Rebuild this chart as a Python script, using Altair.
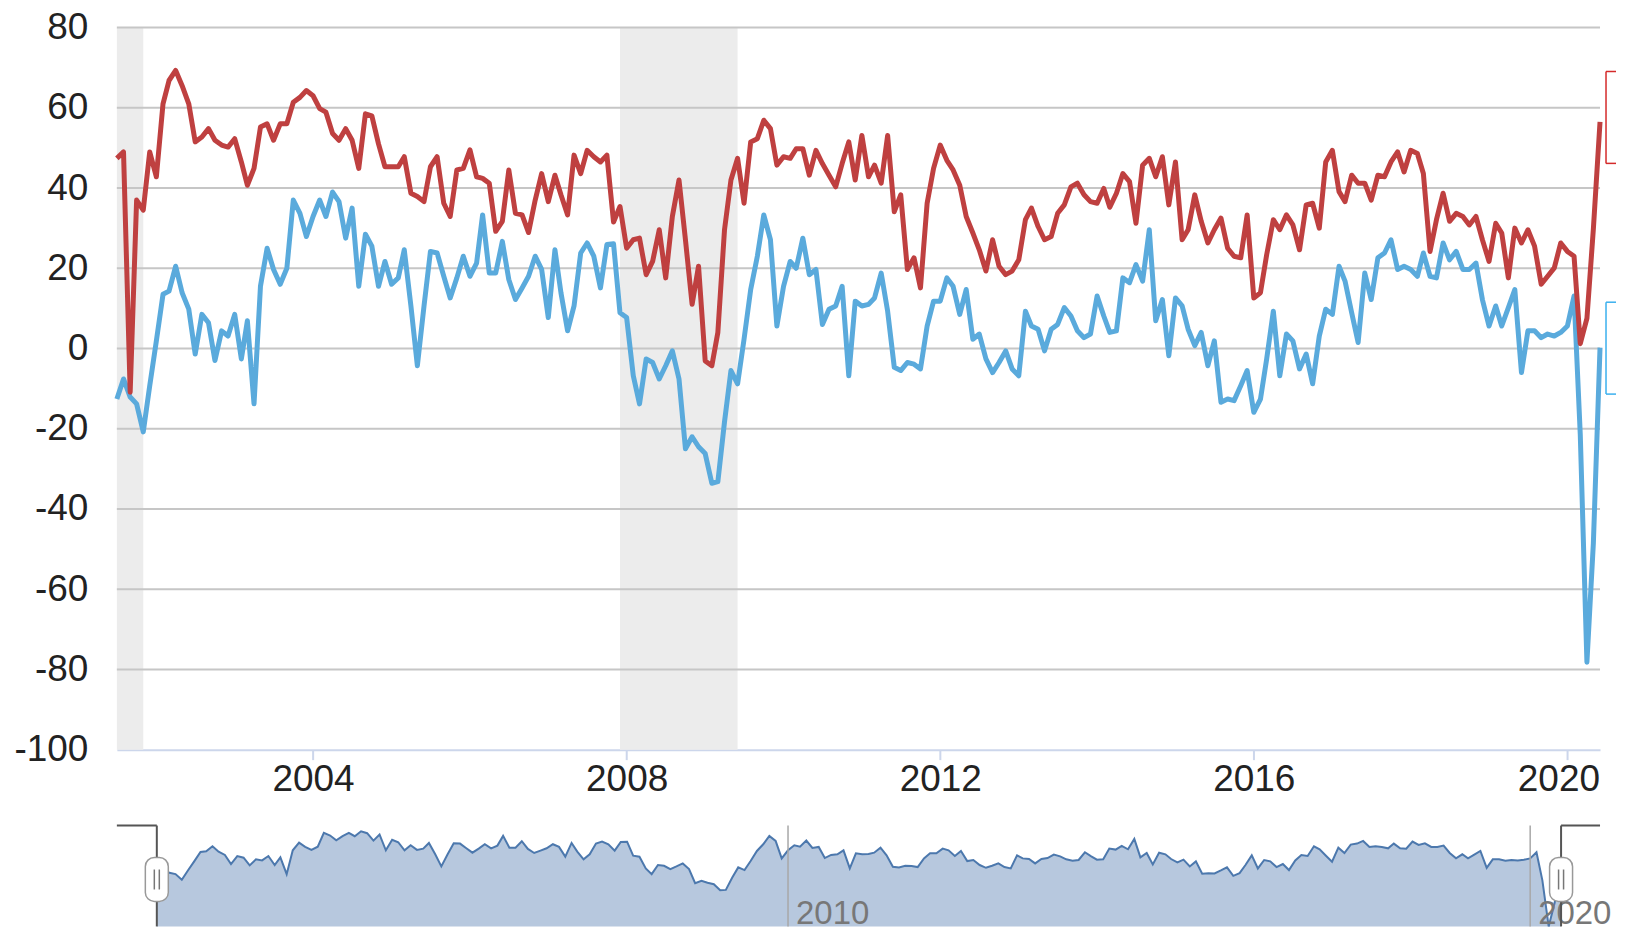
import altair as alt
import pandas as pd

# Empire-style survey: current conditions (blue) and future conditions (red), monthly from Jul 2001
current = [
    -12.6, -7.6, -12.1, -13.8, -20.8, -9.3, 1.9, 13.5, 14.3, 20.5, 13.9, 9.8,
    -1.4, 8.5, 6.4, -3.0, 4.4, 3.1, 8.5, -2.6, 6.9, -13.8, 15.5, 25.0,
    19.7, 16.0, 20.0, 37.0, 33.7, 27.9, 32.9, 37.0, 32.9, 39.0, 36.6, 27.5,
    35.0, 15.5, 28.5, 25.5, 15.5, 21.7, 16.0, 17.6, 24.6, 10.6, -4.3, 10.6,
    24.2, 23.8, 18.0, 12.6, 17.6, 23.0, 18.0, 21.3, 33.3, 18.8, 18.8, 26.7,
    17.2, 12.2, 15.1, 18.0, 23.0, 19.7, 7.7, 24.6, 13.9, 4.4, 10.6, 23.8,
    26.3, 23.0, 15.1, 25.9, 26.1, 8.9, 7.7, -6.8, -13.8, -2.6, -3.5, -7.6,
    -4.3, -0.6, -7.6, -25.0, -22.0, -24.5, -26.2, -33.6, -33.2, -18.3, -5.5, -8.8,
    2.3, 14.7, 23.0, 33.3, 27.1, 5.6, 15.5, 21.7, 20.0, 27.5, 18.4, 19.7,
    6.0, 9.8, 10.6, 15.5, -6.8, 11.8, 10.6, 11.0, 12.6, 18.8, 9.3, -4.7,
    -5.5, -3.5, -3.9, -5.1, 5.6, 11.8, 11.8, 17.6, 15.5, 8.5, 14.7, 2.3,
    3.6, -2.6, -6.0, -3.5, -0.6, -5.1, -6.8, 9.3, 5.6, 4.8, -0.6, 4.8,
    6.0, 10.2, 8.1, 4.4, 2.7, 3.6, 13.1, 8.1, 4.0, 4.4, 17.6, 16.4,
    20.9, 16.8, 29.6, 6.9, 12.2, -1.8, 12.6, 10.6, 4.8, 0.7, 4.0, -4.3,
    1.9, -13.4, -12.6, -13.0, -9.3, -5.5, -15.9, -12.6, -2.6, 9.3, -6.8, 3.6,
    1.9, -5.1, -1.4, -8.8, 3.1, 9.8, 8.5, 20.5, 16.8, 8.9, 1.5, 18.8,
    12.2, 22.6, 23.8, 27.1, 19.7, 20.5, 19.7, 18.0, 23.8, 18.0, 17.6, 26.3,
    22.1, 24.2, 19.7, 19.7, 21.3, 12.2, 5.6, 10.6, 5.6, 10.2, 14.7, -6.0,
    4.4, 4.4, 2.7, 3.6, 3.1, 4.0, 5.6, 13.1, -21.5, -78.2, -48.5, 0.2,
]
future = [
    47.4, 49.0, -10.9, 37.0, 34.5, 49.0, 42.8, 61.0, 66.8, 69.3, 65.5, 61.0,
    51.5, 52.7, 54.8, 51.9, 50.7, 50.2, 52.3, 46.5, 40.7, 44.9, 55.2, 56.0,
    51.9, 56.0, 56.0, 61.4, 62.6, 64.3, 63.0, 59.8, 58.9, 53.6, 51.9, 54.8,
    51.9, 44.9, 58.5, 58.0, 51.0, 45.3, 45.3, 45.3, 47.8, 38.7, 37.9, 36.6,
    45.3, 47.8, 36.2, 32.9, 44.5, 44.9, 49.5, 42.8, 42.4, 41.2, 29.2, 31.7,
    44.5, 33.7, 33.3, 28.9, 37.0, 43.6, 36.6, 43.2, 38.3, 33.3, 48.2, 43.6,
    49.4, 47.8, 46.5, 48.2, 31.5, 35.4, 25.0, 27.1, 27.5, 18.4, 21.7, 29.6,
    17.6, 32.9, 42.0, 27.1, 11.0, 20.5, -3.1, -4.3, 4.0, 29.6, 42.0, 47.4,
    36.2, 51.5, 52.3, 56.9, 54.8, 45.7, 47.8, 47.4, 49.8, 49.8, 43.2, 49.4,
    46.1, 43.2, 40.3, 46.1, 51.5, 42.0, 53.1, 42.8, 45.7, 41.2, 53.1, 34.1,
    38.3, 19.7, 22.6, 15.1, 36.2, 44.9, 50.7, 46.9, 44.5, 40.7, 32.9, 28.8,
    24.6, 19.3, 27.1, 20.5, 18.4, 19.3, 22.1, 32.1, 35.0, 30.4, 27.1, 27.9,
    33.7, 35.8, 40.3, 41.2, 38.3, 36.6, 36.2, 39.9, 35.2, 38.7, 43.6, 41.6,
    31.2, 45.7, 47.4, 42.8, 47.8, 35.8, 46.5, 27.1, 29.6, 38.3, 31.7, 26.3,
    29.6, 32.5, 25.0, 23.0, 22.6, 33.3, 12.6, 13.9, 23.4, 32.1, 29.6, 33.3,
    30.8, 24.6, 35.8, 36.2, 30.0, 46.5, 49.4, 39.1, 36.6, 43.2, 41.2, 41.2,
    37.0, 43.2, 42.8, 46.5, 49.0, 44.0, 49.4, 48.6, 43.6, 24.2, 32.1, 38.7,
    31.7, 33.7, 32.9, 30.8, 32.9, 27.1, 21.7, 31.2, 28.8, 17.6, 30.0, 26.3,
    29.6, 25.5, 16.0, 18.0, 20.1, 26.3, 24.2, 23.0, 1.2, 7.5, 29.8, 56.5,
]
first_month = "2001-07-01"
months = pd.date_range(first_month, periods=len(current), freq="MS").strftime("%Y-%m-%d").tolist()

recession_start = ["2001-07-01", "2007-12-01"]
recession_end = ["2001-11-01", "2009-06-01"]
grid_values = [-80, -60, -40, -20, 0, 20, 40, 60, 80]
y_ticks = [-100, -80, -60, -40, -20, 0, 20, 40, 60, 80]
x_tick_years = [2004, 2008, 2012, 2016, 2020]
nav_dates = ["2010-01-01", "2020-01-01"]
nav_labels = ["2010", "2020"]

W, H = 1485, 723
NAV_H = 101
FONT = "Liberation Sans"

df = pd.DataFrame({"date": months, "current": current, "future": future})
rec = pd.DataFrame({"start": recession_start, "end": recession_end})
grid = pd.DataFrame({"value": grid_values})
navlab = pd.DataFrame({"d": nav_dates, "label": nav_labels})
edges = pd.DataFrame({"d": [months[0], months[-1]], "side": ["left", "right"]})
one = pd.DataFrame({"k": [0]})


def dt(s):
    return alt.DateTime(year=int(s[:4]), month=int(s[5:7]), date=int(s[8:10]), utc=True)


x_dom = [dt(months[0]), dt(months[-1])]
xscale = alt.Scale(type="utc", domain=x_dom, nice=False)
yscale = alt.Scale(domain=[-100, 80], nice=False)

xaxis = alt.Axis(
    values=[alt.DateTime(year=y, month=1, date=1, utc=True) for y in x_tick_years],
    format="%Y", title=None, grid=False,
    labelFont=FONT, labelFontSize=37, labelColor="#222222",
    tickSize=10, tickColor="#ccd6eb", tickWidth=2,
    domainColor="#ccd6eb", domainWidth=2, labelPadding=2,
    labelOffset={"condition": {"test": "utcyear(datum.value) == 2020", "value": -9}, "value": 0},
)
yaxis = alt.Axis(
    values=y_ticks, title=None, grid=False, ticks=False, domain=False,
    labelFont=FONT, labelFontSize=37, labelColor="#222222", labelPadding=29,
    labelExpr="replace(datum.label, '\u2212', '-')",
)

shade = alt.Chart(rec).mark_rect(color="#ececec").encode(
    x=alt.X("start:T", scale=xscale, axis=xaxis),
    x2="end:T",
    y=alt.value(0), y2=alt.value(H),
)
gridrules = alt.Chart(grid).mark_rule(color="#c6c6c6", strokeWidth=2).encode(
    y=alt.Y("value:Q", scale=yscale, axis=yaxis)
)
blue_line = alt.Chart(df).mark_line(color="#5aaadc", strokeWidth=5, strokeJoin="round").encode(
    x=alt.X("date:T", scale=xscale, axis=xaxis),
    y=alt.Y("current:Q", scale=yscale, axis=yaxis),
)
red_line = alt.Chart(df).mark_line(color="#bf4040", strokeWidth=5, strokeJoin="round").encode(
    x=alt.X("date:T", scale=xscale, axis=xaxis),
    y=alt.Y("future:Q", scale=yscale, axis=yaxis),
)


def box(color, top, bottom):
    base = alt.Chart(one)
    left = 1491
    right = 1501
    return alt.layer(
        base.mark_rule(color=color, strokeWidth=1.5).encode(x=alt.value(left), x2=alt.value(right), y=alt.value(top)),
        base.mark_rule(color=color, strokeWidth=1.5).encode(x=alt.value(left), x2=alt.value(right), y=alt.value(bottom)),
        base.mark_rule(color=color, strokeWidth=1.5).encode(x=alt.value(left), y=alt.value(top), y2=alt.value(bottom)),
    )


main = alt.layer(
    shade, gridrules, blue_line, red_line,
    box("#d42a2a", 44, 136), box("#3bb0ee", 275, 367),
).properties(width=W, height=H)

# Navigator
nav_x_scale = alt.Scale(type="utc", domain=x_dom, range=[40, 1446], nice=False)
nav_y_scale = alt.Scale(domain=[min(current), 46], nice=False)

nav_area = alt.Chart(df).mark_area(color="#b7c8de").encode(
    x=alt.X("date:T", scale=nav_x_scale, axis=None),
    y=alt.Y("current:Q", scale=nav_y_scale, axis=None, stack=None),
    y2=alt.datum(min(current)),
)
nav_line = alt.Chart(df).mark_line(color="#4c78ad", strokeWidth=2).encode(
    x=alt.X("date:T", scale=nav_x_scale, axis=None),
    y=alt.Y("current:Q", scale=nav_y_scale, axis=None),
)
nav_grid = alt.Chart(navlab).mark_rule(color="#a8a8a8", strokeWidth=1.5).encode(
    x=alt.X("d:T", scale=nav_x_scale, axis=None), y=alt.value(0), y2=alt.value(NAV_H)
)
nav_text = alt.Chart(navlab).mark_text(
    align="left", baseline="alphabetic", dx=8, fontSize=33, color="#777777", font=FONT
).encode(x=alt.X("d:T", scale=nav_x_scale, axis=None), y=alt.value(NAV_H - 2), text="label:N")

outline_left_top = alt.Chart(edges).transform_filter(alt.datum.side == "left").mark_rule(
    color="#555555", strokeWidth=2
).encode(x=alt.X("d:T", scale=nav_x_scale, axis=None), x2=alt.value(0), y=alt.value(0))
outline_right_top = alt.Chart(edges).transform_filter(alt.datum.side == "right").mark_rule(
    color="#555555", strokeWidth=2
).encode(x=alt.X("d:T", scale=nav_x_scale, axis=None), x2=alt.value(W), y=alt.value(0))
outline_vert = alt.Chart(edges).mark_rule(color="#555555", strokeWidth=2).encode(
    x=alt.X("d:T", scale=nav_x_scale, axis=None), y=alt.value(0), y2=alt.value(NAV_H)
)
handles = alt.Chart(edges).mark_rect(
    fill="white", stroke="#999999", strokeWidth=1.5, cornerRadius=9, xOffset=-11.5, x2Offset=11.5
).encode(x=alt.X("d:T", scale=nav_x_scale, axis=None), x2="d:T", y=alt.value(32), y2=alt.value(76))
grip1 = alt.Chart(edges).mark_rule(color="#777777", strokeWidth=1.5, xOffset=-2.5).encode(
    x=alt.X("d:T", scale=nav_x_scale, axis=None), y=alt.value(44), y2=alt.value(64)
)
grip2 = alt.Chart(edges).mark_rule(color="#777777", strokeWidth=1.5, xOffset=2.5).encode(
    x=alt.X("d:T", scale=nav_x_scale, axis=None), y=alt.value(44), y2=alt.value(64)
)

nav = alt.layer(
    nav_area, nav_line, nav_grid, nav_text,
    outline_left_top, outline_right_top, outline_vert, handles, grip1, grip2,
).properties(width=W, height=NAV_H)

chart = alt.vconcat(main, nav, spacing=27).properties(
    padding={"left": 5, "top": 0, "right": 0, "bottom": 0}, background="white"
).configure_view(stroke=None)

chart.save("out.html", embed_options={"renderer": "svg", "actions": False})
